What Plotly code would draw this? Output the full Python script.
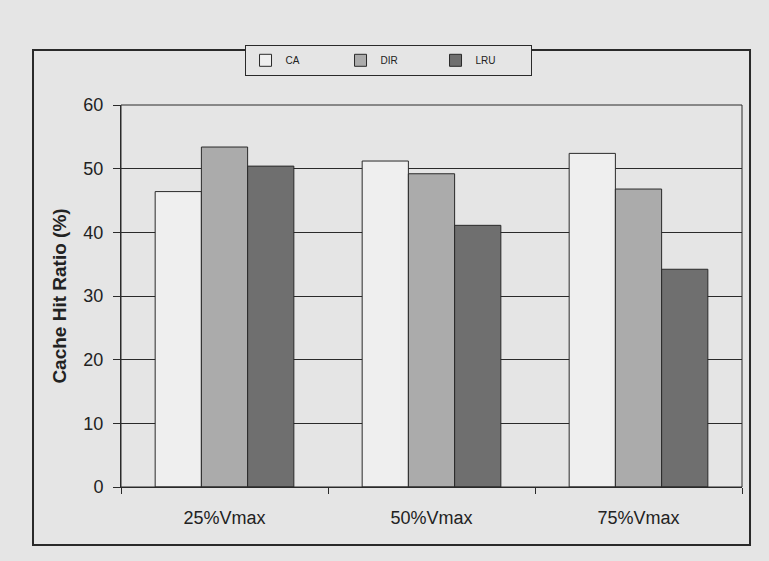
import plotly.graph_objects as go

# Cache hit ratio (%) per speed setting and caching policy
categories = ["25%Vmax", "50%Vmax", "75%Vmax"]
ca_values = [46.4, 51.2, 52.4]
dir_values = [53.4, 49.2, 46.8]
lru_values = [50.4, 41.1, 34.2]
y_ticks = [0, 10, 20, 30, 40, 50, 60]

series = [
    ("CA", ca_values, "#efefef"),
    ("DIR", dir_values, "#ababab"),
    ("LRU", lru_values, "#6f6f6f"),
]

BG = "#e5e5e5"
INK = "#2a2a2a"
FONT = "Liberation Sans, Arial, sans-serif"

fig = go.Figure()
for name, vals, color in series:
    fig.add_trace(go.Bar(
        name=name,
        x=categories,
        y=vals,
        marker=dict(color=color, line=dict(color=INK, width=1)),
    ))

fig.update_layout(
    width=769,
    height=561,
    margin=dict(l=121, r=27, t=105, b=74),
    paper_bgcolor=BG,
    plot_bgcolor=BG,
    barmode="group",
    bargap=0.33,
    bargroupgap=0,
    font=dict(family=FONT, color="#222222"),
    showlegend=True,
    legend=dict(
        orientation="h",
        x=0.43,
        y=1.117,
        xanchor="center",
        yanchor="middle",
        bgcolor=BG,
        bordercolor=INK,
        borderwidth=1,
        font=dict(size=10, family=FONT, color="#222222"),
        itemwidth=30,
        entrywidth=50,
        entrywidthmode="pixels",
        itemclick=False,
    ),
    shapes=[
        # outer chart frame
        dict(type="rect", xref="paper", yref="paper",
             x0=-0.1417, x1=1.0129, y0=-0.1518, y1=1.144,
             line=dict(color=INK, width=2), fillcolor="rgba(0,0,0,0)", layer="below"),
        # plot area frame
        dict(type="rect", xref="paper", yref="paper",
             x0=0, x1=1, y0=0, y1=1,
             line=dict(color=INK, width=1), fillcolor="rgba(0,0,0,0)"),
    ],
)

fig.update_xaxes(
    type="category",
    showline=True,
    linecolor=INK,
    linewidth=1,
    ticks="outside",
    tickson="boundaries",
    ticklen=6,
    tickcolor=INK,
    showgrid=False,
    tickfont=dict(size=18, family=FONT, color="#222222"),
    ticklabelstandoff=14,
)

fig.update_yaxes(
    range=[0, 60],
    tickvals=y_ticks,
    showline=True,
    linecolor=INK,
    linewidth=1,
    ticks="outside",
    ticklen=7,
    tickcolor=INK,
    showgrid=True,
    gridcolor=INK,
    gridwidth=1,
    zeroline=False,
    tickfont=dict(size=18, family=FONT, color="#222222"),
    ticklabelstandoff=6,
    title=dict(text="<b>Cache Hit Ratio (%)</b>",
               font=dict(size=19, family=FONT, color="#222222"),
               standoff=11),
)

fig.write_html("out.html")
